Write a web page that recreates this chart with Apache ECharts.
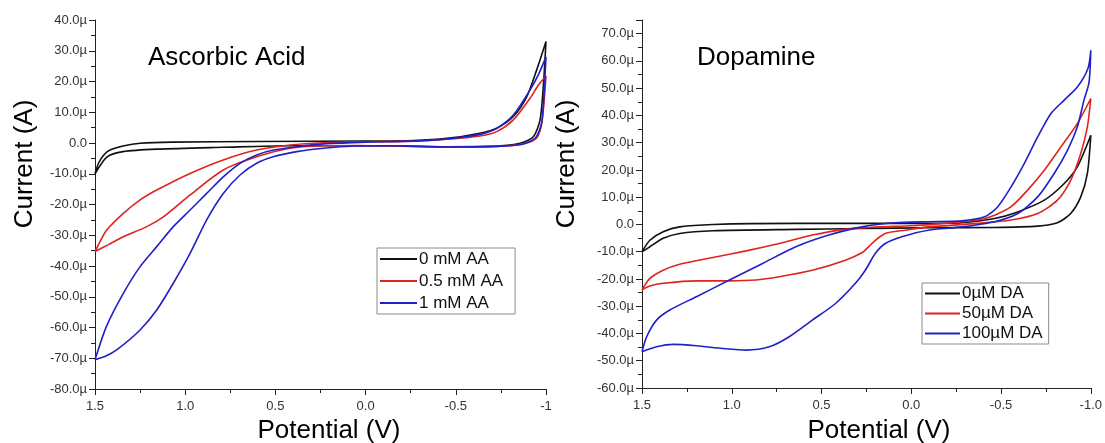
<!DOCTYPE html>
<html>
<head>
<meta charset="utf-8">
<script src="https://cdn.jsdelivr.net/npm/echarts@6/dist/echarts.min.js"></script>
<style>
  html, body { margin: 0; padding: 0; background: #ffffff; }
  #chart { width: 1105px; height: 443px; }
</style>
</head>
<body>
<div id="chart"></div>
<script>
// Cyclic voltammograms: potential (V) vs current (µA), each loop listed in scan order.
const aaNames = ['0 mM AA', '0.5 mM AA', '1 mM AA'];
const daNames = ['0\u00b5M DA', '50\u00b5M DA', '100\u00b5M DA'];

// Ascorbic acid panel
const aa0 = [
  [1.5, -10], [1.48, -6.5], [1.45, -3.8], [1.417, -2.3], [1.345, -1.0], [1.25, -0.1], [1.07, 0.3],
  [0.6, 0.5], [0.0, 0.6], [-0.263, 0.8], [-0.45, 1.5], [-0.634, 3.2], [-0.727, 4.8], [-0.819, 8.6],
  [-0.893, 15], [-0.948, 23.7], [-1.0, 33],
  [-0.985, 18.3], [-0.967, 7.5], [-0.93, 2.0], [-0.856, -0.1], [-0.727, -1.0], [-0.45, -1.2],
  [-0.135, -0.9], [0.42, -0.9], [0.79, -1.4], [1.156, -2.0], [1.345, -2.8], [1.433, -4.5], [1.5, -10]
];
const aa05 = [
  [1.5, -35.3], [1.47, -31.8], [1.435, -28.3], [1.343, -22.9], [1.25, -18.5], [1.158, -15.3], [0.973, -9.9],
  [0.789, -5.5], [0.604, -2.3], [0.419, -0.65], [0.234, 0.1], [0.0, 0.4], [-0.263, 0.6], [-0.45, 1.2],
  [-0.634, 2.3], [-0.727, 3.7], [-0.819, 7.5], [-0.911, 14.5], [-0.96, 19], [-1.0, 21.8],
  [-0.99, 14], [-0.975, 5.9], [-0.947, 1.6], [-0.87, -0.3], [-0.727, -1.1], [-0.45, -1.3],
  [0.05, -0.8], [0.234, -0.9], [0.419, -1.7], [0.604, -4.5], [0.789, -8.8], [0.973, -16.9],
  [1.121, -24], [1.213, -27.2], [1.343, -30.5], [1.43, -33.2], [1.5, -35.3]
];
const aa1 = [
  [1.5, -70.5], [1.437, -59.7], [1.343, -48.9], [1.25, -40.2], [1.158, -33.7], [1.066, -27.2],
  [0.973, -21.8], [0.881, -16.4], [0.789, -11], [0.696, -6.6], [0.604, -3.9], [0.512, -2.3],
  [0.382, -1.2], [0.234, -0.3], [0.0, 0.3], [-0.263, 0.6], [-0.45, 1.3], [-0.634, 2.8], [-0.727, 4.8],
  [-0.819, 9.1], [-0.911, 17.2], [-0.96, 22.5], [-1.0, 28],
  [-0.99, 17], [-0.976, 6.6], [-0.941, 1.6], [-0.864, -0.5], [-0.727, -1.1], [-0.45, -1.3],
  [-0.135, -0.9], [0.05, -1.0], [0.234, -1.7], [0.382, -2.8], [0.512, -4.5], [0.604, -6.6],
  [0.696, -10.4], [0.789, -16.4], [0.881, -25], [0.973, -35.9], [1.066, -45.6], [1.158, -54.3],
  [1.25, -60.8], [1.38, -67.3], [1.44, -69.3], [1.5, -70.5]
];

// Dopamine panel
const da0 = [
  [1.5, -10], [1.456, -5.8], [1.382, -2.7], [1.29, -0.9], [1.105, 0], [0.643, 0.4], [-0.095, 0.4],
  [-0.279, 0.6], [-0.464, 2.2], [-0.593, 4.6], [-0.741, 8.9], [-0.852, 15], [-0.925, 21.1], [-1.0, 32.7],
  [-0.981, 18.7], [-0.944, 10.1], [-0.888, 4], [-0.814, 0.6], [-0.704, -0.6], [-0.464, -1.1],
  [-0.095, -1.2], [0.275, -1.5], [0.643, -1.8], [1.105, -2.3], [1.29, -3.3], [1.382, -5.1],
  [1.456, -8.2], [1.5, -10]
];
const da50 = [
  [1.5, -24], [1.456, -19.8], [1.382, -16.8], [1.29, -14.6], [1.105, -12.1], [0.92, -9.7],
  [0.736, -7], [0.551, -3.9], [0.367, -1.8], [0.183, -0.9], [0.0, -0.5], [-0.187, 0.4],
  [-0.372, 1.6], [-0.464, 3.4], [-0.556, 6.5], [-0.648, 12.6], [-0.741, 19.9], [-0.833, 28.4],
  [-0.925, 37], [-1.0, 46.2],
  [-0.981, 35.8], [-0.944, 26], [-0.888, 16.2], [-0.814, 8.9], [-0.704, 4], [-0.556, 1.6],
  [-0.372, 0.4], [-0.095, -0.9], [0.034, -2.1], [0.145, -3.3], [0.2, -5.8], [0.238, -8.2],
  [0.275, -10.4], [0.367, -13.1], [0.551, -16.8], [0.736, -19.2], [0.865, -20.4], [1.013, -20.7],
  [1.197, -20.7], [1.382, -21.6], [1.456, -22.6], [1.5, -24]
];
const da100 = [
  [1.5, -46.7], [1.474, -41.2], [1.419, -35.1], [1.345, -31.4], [1.197, -26.5], [1.013, -20.4],
  [0.828, -14.3], [0.643, -8.2], [0.459, -3.9], [0.275, -0.9], [0.09, 0.6], [-0.095, 1.0],
  [-0.279, 1.3], [-0.409, 2.8], [-0.482, 6.5], [-0.556, 13.8], [-0.63, 22.4], [-0.704, 32.1],
  [-0.778, 40.7], [-0.852, 45.6], [-0.925, 50.4], [-0.984, 57.2], [-1.0, 63.9],
  [-0.99, 52], [-0.962, 45.6], [-0.925, 35.8], [-0.87, 27.2], [-0.796, 18.7], [-0.704, 10.1],
  [-0.593, 4], [-0.464, 1], [-0.279, -0.9], [-0.095, -2.1], [0.053, -4.5], [0.145, -7],
  [0.2, -10.6], [0.256, -16.8], [0.311, -21.6], [0.422, -29], [0.551, -35.1], [0.68, -41.2],
  [0.791, -44.9], [0.92, -46.1], [1.05, -45.5], [1.197, -44.5], [1.327, -44], [1.419, -44.9],
  [1.5, -46.7]
];

const lineColors = ['#111111', '#e0231f', '#2020c8'];
const FONT = 'Liberation Sans, Arial, Helvetica, sans-serif';

const chart = echarts.init(document.getElementById('chart'), null, { renderer: 'canvas' });

function xAxisFor(gridIndex, fmt) {
  return {
    gridIndex, type: 'value', min: -1, max: 1.5, interval: 0.5, inverse: true,
    axisLine: { show: true, onZero: false, lineStyle: { color: '#222', width: 1 } },
    axisTick: { show: true, inside: false, length: 6, lineStyle: { color: '#222' } },
    minorTick: { show: true, splitNumber: 2, length: 4, lineStyle: { color: '#222' } },
    splitLine: { show: false },
    axisLabel: { color: '#333', fontSize: 13, fontFamily: FONT, margin: 11, formatter: fmt }
  };
}
function yAxisFor(gridIndex, min, max) {
  return {
    gridIndex, type: 'value', min, max, interval: 10,
    axisLine: { show: true, onZero: false, lineStyle: { color: '#222', width: 1 } },
    axisTick: { show: true, inside: false, length: 6, lineStyle: { color: '#222' } },
    minorTick: { show: true, splitNumber: 2, length: 4, lineStyle: { color: '#222' } },
    splitLine: { show: false },
    axisLabel: {
      color: '#333', fontSize: 13, fontFamily: FONT, margin: 8,
      formatter: v => (Math.abs(v % 10) > 1e-9 ? '' : (v === 0 ? '0.0' : v.toFixed(1) + '\u00b5'))
    }
  };
}
function cvSeries(name, data, idx, axisIndex) {
  return {
    name, type: 'line', data, xAxisIndex: axisIndex, yAxisIndex: axisIndex,
    showSymbol: false, smooth: 0.25, clip: false,
    lineStyle: { color: lineColors[idx], width: 1.6 },
    itemStyle: { color: lineColors[idx] },
    animation: false
  };
}
function legendFor(names, left, top, itemWidth, lineHeight, gap, padRight) {
  return {
    data: names, left, top, orient: 'vertical', icon: 'rect',
    itemWidth, itemHeight: 2, itemGap: gap, selectedMode: false,
    padding: [2, padRight, 2, 3], borderColor: '#8a8a8a', borderWidth: 1, backgroundColor: '#fff',
    textStyle: { fontSize: 17, fontFamily: FONT, color: '#111', lineHeight, padding: [0, 0, 0, -3] }
  };
}

const option = {
  backgroundColor: '#ffffff',
  animation: false,
  grid: [
    { left: 95, top: 20, width: 451, height: 369 },
    { left: 642, top: 20, width: 451.5, height: 368 }
  ],
  xAxis: [
    xAxisFor(0, v => (v === -1 ? '-1' : v.toFixed(1))),
    xAxisFor(1, v => v.toFixed(1))
  ],
  yAxis: [yAxisFor(0, -80, 40), yAxisFor(1, -60, 75)],
  legend: [
    legendFor(aaNames, 377, 248, 37, 18, 4, 12),
    legendFor(daNames, 922, 283, 35, 17, 3, 6)
  ],
  series: [
    cvSeries(aaNames[0], aa0, 0, 0),
    cvSeries(aaNames[1], aa05, 1, 0),
    cvSeries(aaNames[2], aa1, 2, 0),
    cvSeries(daNames[0], da0, 0, 1),
    cvSeries(daNames[1], da50, 1, 1),
    cvSeries(daNames[2], da100, 2, 1)
  ],
  graphic: [
    { type: 'text', x: 148, y: 58, style: { text: 'Ascorbic Acid', font: '26px ' + FONT, fill: '#000', textVerticalAlign: 'middle' } },
    { type: 'text', x: 697, y: 58, style: { text: 'Dopamine', font: '26px ' + FONT, fill: '#000', textVerticalAlign: 'middle' } },
    { type: 'text', x: 25, y: 164, rotation: Math.PI / 2, style: { text: 'Current (A)', font: '26px ' + FONT, fill: '#000', textAlign: 'center', textVerticalAlign: 'middle' } },
    { type: 'text', x: 567, y: 164, rotation: Math.PI / 2, style: { text: 'Current (A)', font: '26px ' + FONT, fill: '#000', textAlign: 'center', textVerticalAlign: 'middle' } },
    { type: 'text', x: 329, y: 431, style: { text: 'Potential (V)', font: '26px ' + FONT, fill: '#000', textAlign: 'center', textVerticalAlign: 'middle' } },
    { type: 'text', x: 879, y: 431, style: { text: 'Potential (V)', font: '26px ' + FONT, fill: '#000', textAlign: 'center', textVerticalAlign: 'middle' } }
  ]
};
chart.setOption(option);
</script>
</body>
</html>
